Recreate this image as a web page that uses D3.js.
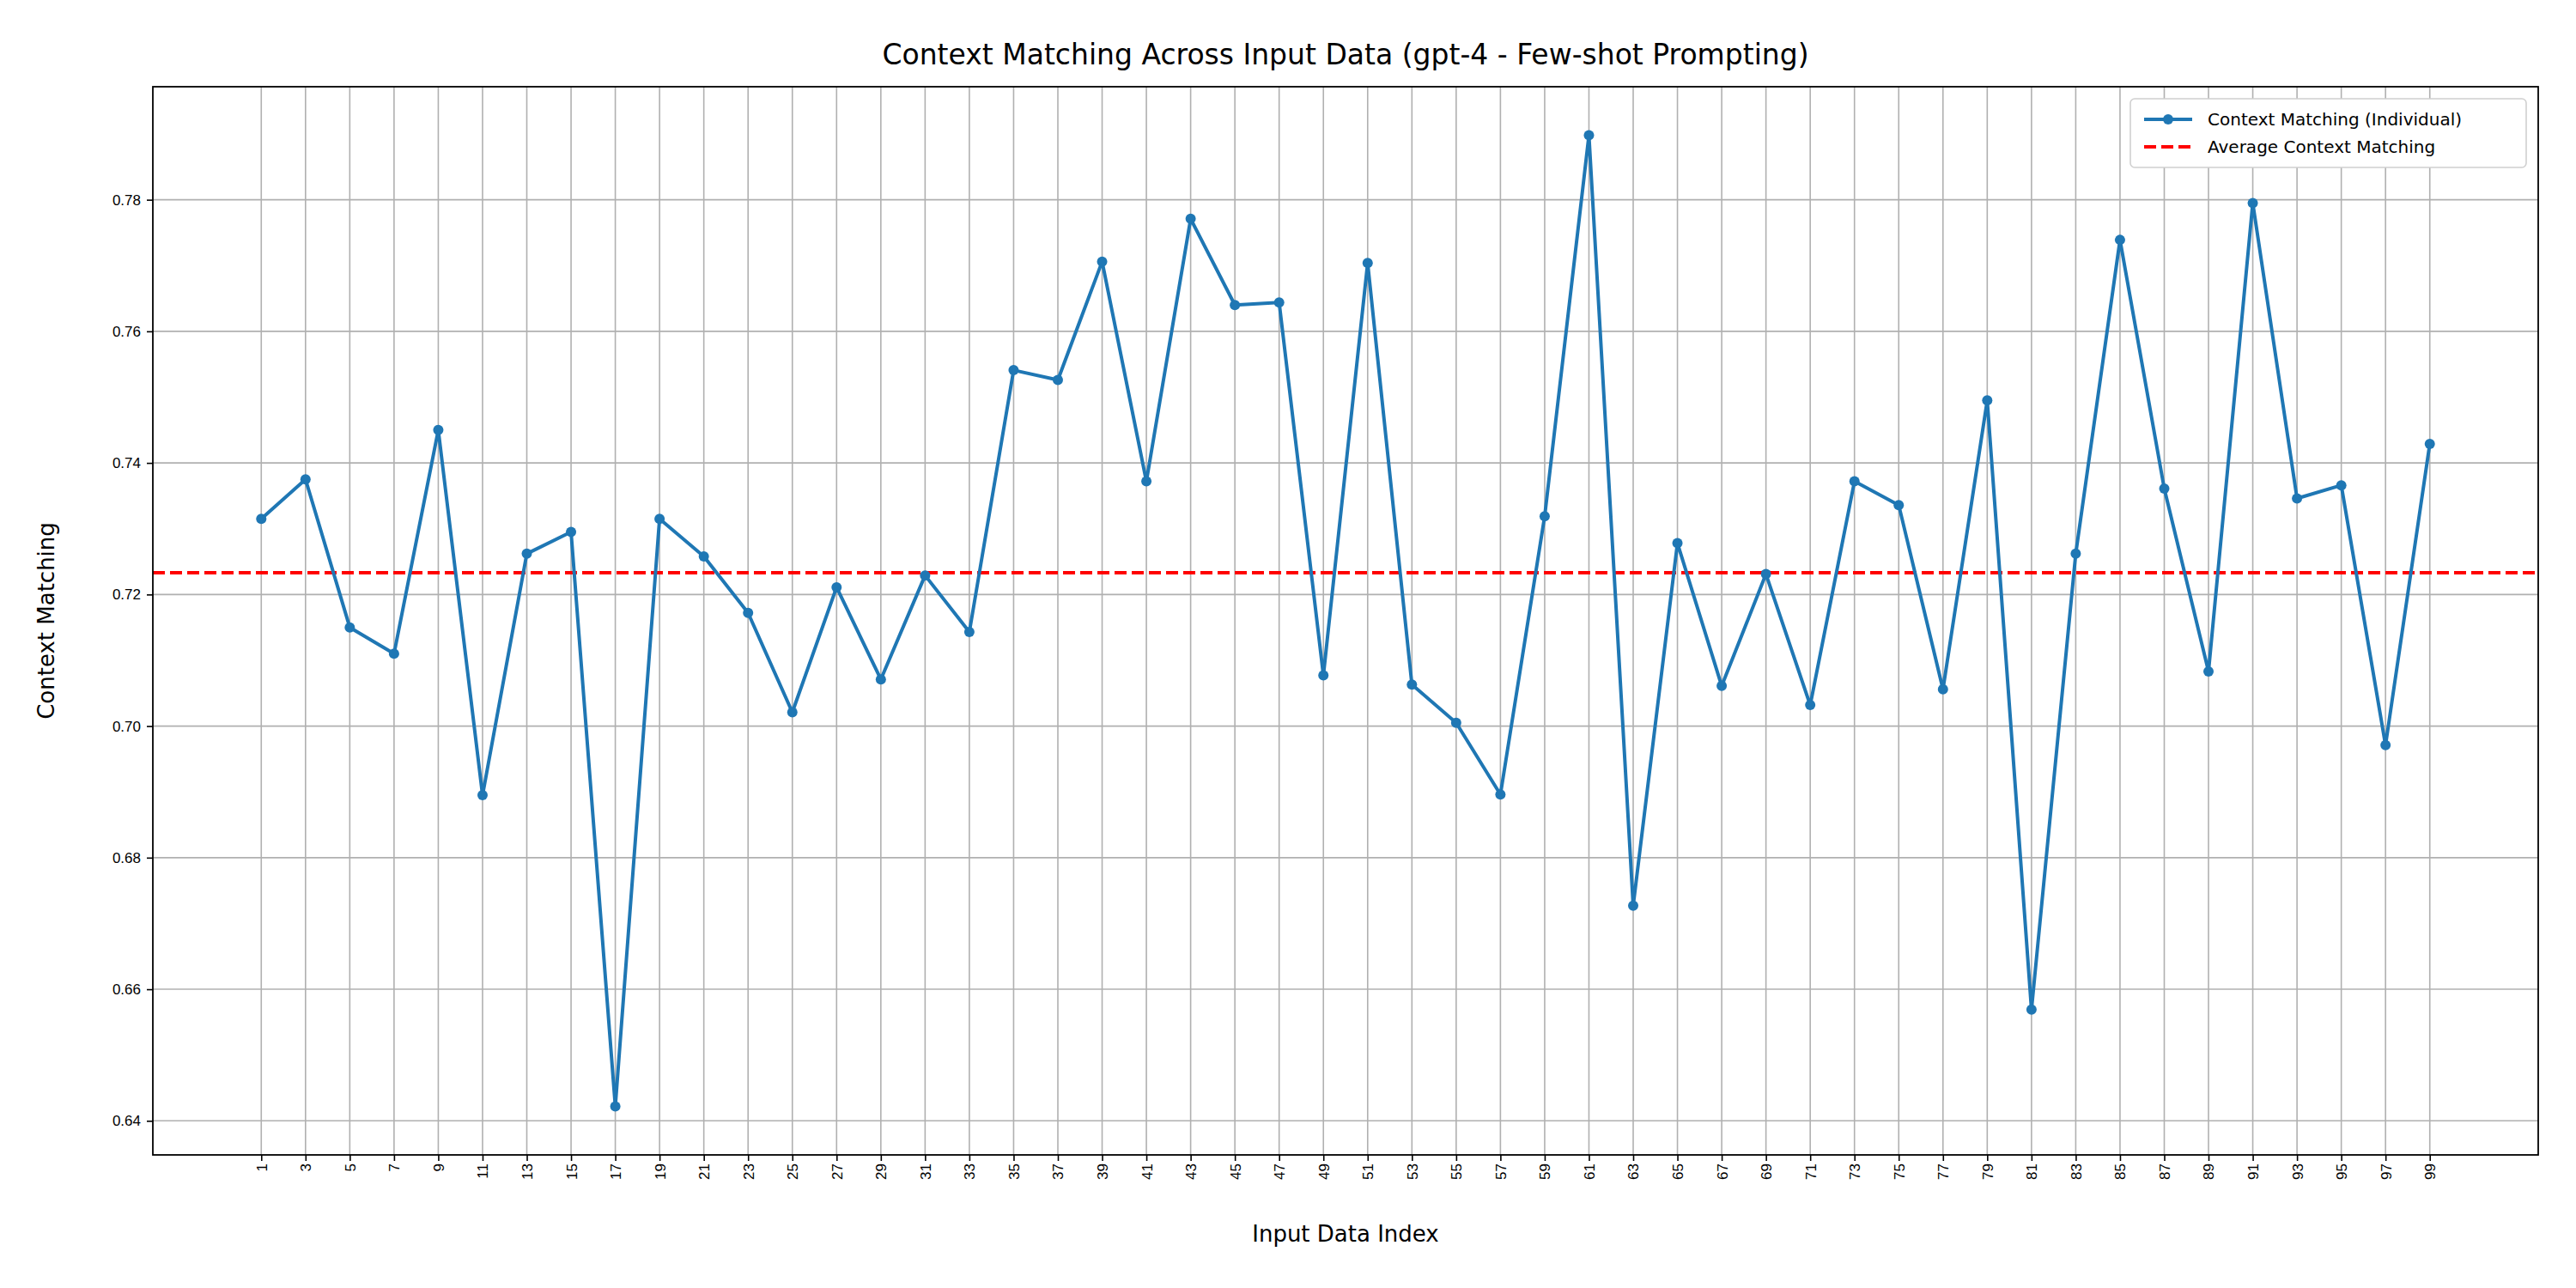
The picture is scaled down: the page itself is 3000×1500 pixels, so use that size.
<!DOCTYPE html>
<html><head><meta charset="utf-8">
<script src="https://cdn.jsdelivr.net/npm/d3@7"></script>
<style>body{margin:0;background:#fff}svg{font-family:"DejaVu Sans",sans-serif}</style>
</head><body><svg width="3000" height="1500"></svg>
<script>
var indices = d3.range(1, 100, 2);
var scores = [0.7315,0.7375,0.715,0.711,0.745,0.6895,0.7262,0.7295,0.6422,0.7315,
  0.7258,0.7172,0.7021,0.7211,0.7071,0.7229,0.7143,0.7541,0.7526,0.7706,
  0.7372,0.7771,0.764,0.7644,0.7077,0.7704,0.7063,0.7005,0.6896,0.7319,
  0.7898,0.6727,0.7278,0.7061,0.7231,0.7032,0.7372,0.7336,0.7056,0.7495,
  0.6569,0.7262,0.7739,0.7361,0.7083,0.7795,0.7346,0.7366,0.6971,0.7429];
var average = 0.7233;
var yTicks = [0.64,0.66,0.68,0.70,0.72,0.74,0.76,0.78];

var svg = d3.select("svg"),
    margin = {top: 101, right: 44, bottom: 155, left: 178},
    width = 3000 - margin.left - margin.right,
    height = 1500 - margin.top - margin.bottom,
    g = svg.append("g").attr("transform", "translate(" + margin.left + "," + margin.top + ")");

var ext = d3.extent(scores), pad = (ext[1] - ext[0]) * 0.05;
var x = d3.scaleLinear().domain([1 - 4.9, 99 + 4.9]).range([0, width]),
    y = d3.scaleLinear().domain([ext[0] - pad, ext[1] + pad]).range([height, 0]);

// grid
g.selectAll(".gx").data(indices).enter().append("line")
    .attr("x1", d => x(d)).attr("x2", d => x(d)).attr("y1", 0).attr("y2", height)
    .attr("stroke", "#b0b0b0").attr("stroke-width", 1.6);
g.selectAll(".gy").data(yTicks).enter().append("line")
    .attr("x1", 0).attr("x2", width).attr("y1", d => y(d)).attr("y2", d => y(d))
    .attr("stroke", "#b0b0b0").attr("stroke-width", 1.6);

// axes
var xa = g.append("g").attr("transform", "translate(0," + height + ")")
    .call(d3.axisBottom(x).tickValues(indices).tickSize(7).tickPadding(6));
xa.selectAll("text").attr("transform", "rotate(-90)").attr("text-anchor", "end")
    .attr("x", -10).attr("y", 0).attr("dy", "0.35em").style("font-size", "17px");
var ya = g.append("g").call(d3.axisLeft(y).tickValues(yTicks).tickFormat(d3.format(".2f")).tickSize(7).tickPadding(7));
ya.selectAll("text").style("font-size", "17px");
[xa, ya].forEach(a => { a.select(".domain").remove(); a.selectAll("line").attr("stroke-width", 1.6); });

// average line
g.append("line").attr("x1", 0).attr("x2", width).attr("y1", y(average)).attr("y2", y(average))
    .attr("stroke", "red").attr("stroke-width", 4).attr("stroke-dasharray", "14,6");

// series
var line = d3.line().x((d, i) => x(indices[i])).y(d => y(d));
g.append("path").datum(scores).attr("fill", "none").attr("stroke", "#1f77b4")
    .attr("stroke-width", 4).attr("stroke-linejoin", "round").attr("d", line);
g.selectAll(".pt").data(scores).enter().append("circle")
    .attr("cx", (d, i) => x(indices[i])).attr("cy", d => y(d)).attr("r", 6).attr("fill", "#1f77b4");

// frame
g.append("rect").attr("width", width).attr("height", height).attr("fill", "none")
    .attr("stroke", "#000").attr("stroke-width", 1.8);

// titles
svg.append("text").attr("x", margin.left + width / 2).attr("y", 75).attr("text-anchor", "middle")
    .style("font-size", "33px").text("Context Matching Across Input Data (gpt-4 - Few-shot Prompting)");
svg.append("text").attr("x", margin.left + width / 2).attr("y", 1446).attr("text-anchor", "middle")
    .style("font-size", "26px").text("Input Data Index");
svg.append("text").attr("transform", "translate(63," + (margin.top + height / 2) + ") rotate(-90)")
    .attr("text-anchor", "middle").style("font-size", "26px").text("Context Matching");

// legend
var lg = svg.append("g").attr("transform", "translate(2481,115)");
lg.append("rect").attr("width", 461).attr("height", 80).attr("rx", 5).attr("fill", "#fff")
    .attr("stroke", "#d0d0d0").attr("stroke-width", 1.6);
lg.append("line").attr("x1", 16).attr("x2", 72).attr("y1", 24).attr("y2", 24).attr("stroke", "#1f77b4").attr("stroke-width", 4);
lg.append("circle").attr("cx", 44).attr("cy", 24).attr("r", 6).attr("fill", "#1f77b4");
lg.append("text").attr("x", 90).attr("y", 24).attr("dy", "0.35em").style("font-size", "20px").text("Context Matching (Individual)");
lg.append("line").attr("x1", 16).attr("x2", 72).attr("y1", 56).attr("y2", 56).attr("stroke", "red").attr("stroke-width", 4).attr("stroke-dasharray", "14,6");
lg.append("text").attr("x", 90).attr("y", 56).attr("dy", "0.35em").style("font-size", "20px").text("Average Context Matching");
</script></body></html>
